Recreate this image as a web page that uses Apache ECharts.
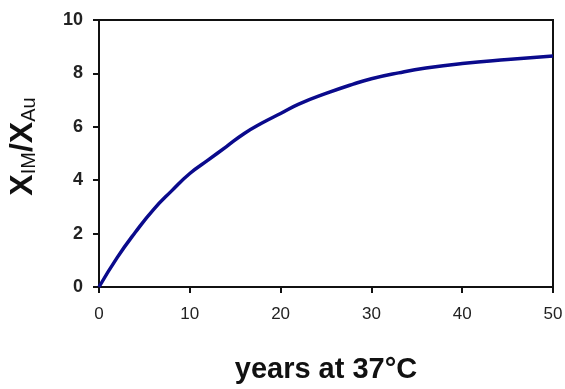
<!DOCTYPE html>
<html>
<head>
<meta charset="utf-8">
<script src="https://cdn.jsdelivr.net/npm/echarts@6/dist/echarts.min.js"></script>
<style>
  html, body { margin: 0; padding: 0; background: #fff; }
  #chart { width: 565px; height: 389px; }
</style>
</head>
<body>
<div id="chart"></div>
<script>
// values (years, ratio)
const years = [0, 2, 4, 6, 8, 10, 12, 14, 16, 18, 20, 22, 25, 28, 30, 33, 36, 40, 45, 50];
const ratio = [0, 1.1, 2.05, 2.9, 3.6, 4.25, 4.75, 5.25, 5.75, 6.15, 6.5, 6.85, 7.25, 7.6, 7.8, 8.02, 8.2, 8.37, 8.52, 8.65];
const xTicks = [0, 10, 20, 30, 40, 50];
const yTicks = [0, 2, 4, 6, 8, 10];

const points = years.map((x, i) => [x, ratio[i]]);

const chart = echarts.init(document.getElementById('chart'));
chart.setOption({
  animation: false,
  backgroundColor: '#fff',
  textStyle: { fontFamily: 'Liberation Sans, Arial, sans-serif' },
  grid: {
    left: 99, right: 12, top: 20, bottom: 102,
    outerBoundsMode: 'none',
    show: true, borderColor: '#111', borderWidth: 2
  },
  xAxis: {
    type: 'value',
    min: xTicks[0], max: xTicks[xTicks.length - 1], interval: 10,
    splitLine: { show: false },
    axisLine: { lineStyle: { color: '#111', width: 2 } },
    axisTick: { length: 6, lineStyle: { color: '#111', width: 2 } },
    axisLabel: { color: '#222', fontSize: 17, margin: 19 },
    name: 'years at 37°C',
    nameLocation: 'middle',
    nameGap: 68,
    nameTextStyle: { color: '#111', fontSize: 29, fontWeight: 'bold' }
  },
  yAxis: {
    type: 'value',
    min: yTicks[0], max: yTicks[yTicks.length - 1], interval: 2,
    splitLine: { show: false },
    axisLine: { lineStyle: { color: '#111', width: 2 } },
    axisTick: { length: 6, lineStyle: { color: '#111', width: 2 } },
    axisLabel: { color: '#222', fontSize: 18, fontWeight: 'bold', margin: 16 },
    name: '{x|X}{s|IM}{x|/X}{s|Au}',
    nameLocation: 'middle',
    nameGap: 60,
    nameTextStyle: {
      color: '#111',
      padding: [0, 0, 0, 14],
      rich: {
        x: { fontSize: 32, fontWeight: 'bold', color: '#111', verticalAlign: 'bottom' },
        s: { fontSize: 20, color: '#111', verticalAlign: 'bottom' }
      }
    }
  },
  series: [{
    type: 'line',
    data: points,
    smooth: true,
    showSymbol: false,
    lineStyle: { color: '#0a0a8c', width: 3.5 }
  }]
});
</script>
</body>
</html>
